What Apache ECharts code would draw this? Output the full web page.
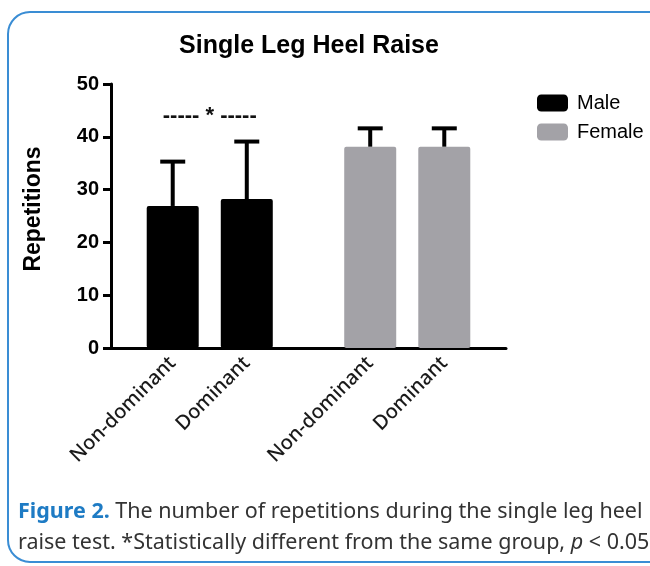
<!DOCTYPE html>
<html>
<head>
<meta charset="utf-8">
<script src="https://cdn.jsdelivr.net/npm/echarts@6/dist/echarts.min.js"></script>
<style>
html, body { margin: 0; padding: 0; background: #fff; }
#chart { width: 650px; height: 566px; }
</style>
</head>
<body>
<div id="chart"></div>
<script>
/* 数据 */
var xLabels = ['Non-dominant', 'Dominant', 'Non-dominant', 'Dominant'];
var groups = ['Male', 'Male', 'Female', 'Female'];
var means = [26.9, 28.2, 38.1, 38.1];
var sds = [8.4, 10.9, 3.5, 3.5];
var yTicks = [0, 10, 20, 30, 40, 50];
var sigText = '----- * -----';
var sigY = 44;

/* 布局: 16 个格子, 柱子放在 2,5,10,13 */
var slotCount = 16;
var slotIndex = [2, 5, 10, 13];

var categories = [];
for (var i = 0; i < slotCount; i++) categories.push('');
for (var k = 0; k < xLabels.length; k++) categories[slotIndex[k]] = xLabels[k];

function seriesData(g) {
	var arr = [];
	for (var i = 0; i < slotCount; i++) arr.push('-');
	for (var k = 0; k < means.length; k++) {
		if (groups[k] === g) arr[slotIndex[k]] = means[k];
	}
	return arr;
}

var errData = [];
for (var k = 0; k < means.length; k++) {
	errData.push([slotIndex[k], means[k], means[k] + sds[k]]);
}

var myChart = echarts.init(document.getElementById('chart'));

var option = {
	animation: false,
	title: {
		text: 'Single Leg Heel Raise',
		left: 304,
		top: 29,
		textAlign: 'center',
		textStyle: { fontFamily: 'Liberation Sans', fontWeight: 'bold', fontSize: 25, color: '#000' }
	},
	legend: {
		data: ['Male', 'Female'],
		orient: 'vertical',
		left: 532,
		top: 88,
		itemWidth: 31,
		itemHeight: 17,
		itemGap: 9,
		icon: 'roundRect',
		textStyle: { fontFamily: 'Liberation Sans', fontSize: 20, color: '#000', padding: [0, 0, 0, 4] }
	},
	grid: { left: 111, right: 144, top: 84, bottom: 218 },
	xAxis: {
		type: 'category',
		data: categories,
		axisLine: { lineStyle: { color: '#000', width: 3 } },
		axisTick: {
			alignWithLabel: true,
			length: 8,
			lineStyle: { color: '#000', width: 3 },
			interval: function (index, value) { return value !== ''; }
		},
		axisLabel: {
			interval: 0,
			rotate: 45,
			margin: 12,
			fontFamily: 'Noto Sans',
			fontWeight: 500,
			fontSize: 20,
			color: '#1a1a1a'
		}
	},
	yAxis: {
		type: 'value',
		min: yTicks[0],
		max: yTicks[yTicks.length - 1],
		interval: 10,
		name: 'Repetitions',
		nameLocation: 'middle',
		nameGap: 66,
		nameTextStyle: { fontFamily: 'Liberation Sans', fontWeight: 'bold', fontSize: 23, color: '#000', padding: [0, 0, 0, 14] },
		axisLine: { show: true, lineStyle: { color: '#000', width: 3 } },
		axisTick: { show: true, length: 8, lineStyle: { color: '#000', width: 3 } },
		axisLabel: { fontFamily: 'Liberation Sans', fontWeight: 'bold', fontSize: 20, color: '#000', margin: 12 },
		splitLine: { show: false }
	},
	series: [
		{
			name: 'Male',
			type: 'bar',
			barWidth: 52,
			barGap: '-100%',
			data: seriesData('Male'),
			itemStyle: { color: '#000', borderRadius: 2 }
		},
		{
			name: 'Female',
			type: 'bar',
			barWidth: 52,
			barGap: '-100%',
			data: seriesData('Female'),
			itemStyle: { color: '#a3a2a7', borderRadius: 2 }
		},
		{
			name: 'err',
			type: 'custom',
			data: errData,
			z: 1,
			renderItem: function (params, api) {
				var low = api.coord([api.value(0), api.value(1)]);
				var high = api.coord([api.value(0), api.value(2)]);
				var capHalf = 12.5;
				return {
					type: 'group',
					children: [
						{ type: 'line', shape: { x1: low[0], y1: low[1], x2: high[0], y2: high[1] }, style: { stroke: '#000', lineWidth: 4 } },
						{ type: 'line', shape: { x1: high[0] - capHalf, y1: high[1], x2: high[0] + capHalf, y2: high[1] }, style: { stroke: '#000', lineWidth: 4 } }
					]
				};
			}
		}
	]
};

myChart.setOption(option);

// 显著性标记 和 图注
var pa = myChart.convertToPixel({ gridIndex: 0 }, [slotIndex[0], sigY]);
var pb = myChart.convertToPixel({ gridIndex: 0 }, [slotIndex[1], sigY]);
myChart.setOption({
	graphic: [
		{
			type: 'text',
			x: (pa[0] + pb[0]) / 2,
			y: pa[1],
			style: {
				text: sigText,
				fontFamily: 'Liberation Sans',
				fontWeight: 'bold',
				fontSize: 22,
				fill: '#111',
				align: 'center',
				verticalAlign: 'middle'
			}
		},
		{
			type: 'rect',
			shape: { x: 8, y: 12, width: 720, height: 550, r: 22 },
			style: { fill: 'none', stroke: '#3a8dd4', lineWidth: 2 },
			silent: true
		},
		{
			type: 'text',
			x: 18,
			y: 496,
			style: {
				text: '{b|Figure 2.} The number of repetitions during the single leg heel\nraise test. *Statistically different from the same group, {i|p} < 0.05.',
				fontFamily: 'Noto Sans',
				fontSize: 21.5,
				lineHeight: 31,
				fill: '#333',
				rich: {
					b: { fontFamily: 'Noto Sans', fontWeight: 'bold', fontSize: 21.5, fill: '#1e7bc4', lineHeight: 31 },
					i: { fontFamily: 'Noto Sans', fontStyle: 'italic', fontSize: 21.5, fill: '#333', lineHeight: 31 }
				}
			}
		}
	]
});
</script>
</body>
</html>
